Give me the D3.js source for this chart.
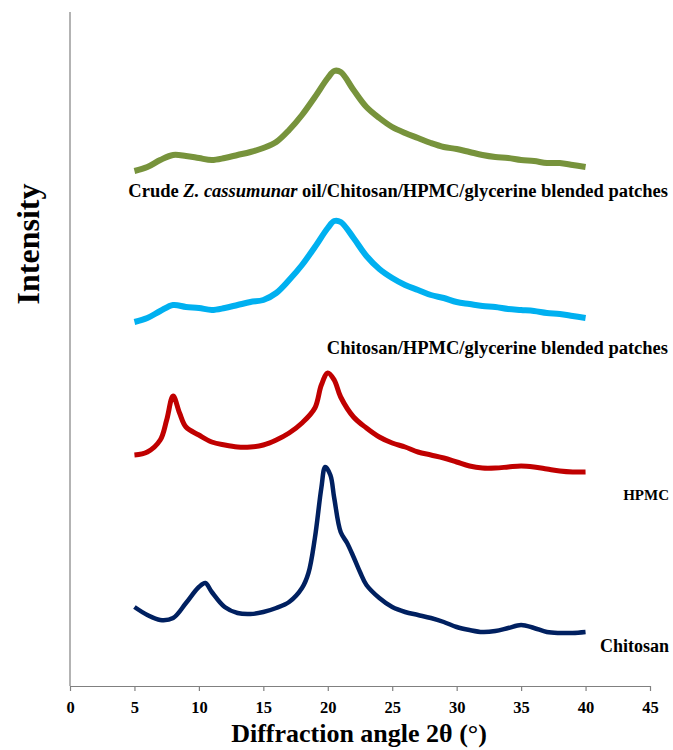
<!DOCTYPE html>
<html><head><meta charset="utf-8">
<script src="https://cdn.jsdelivr.net/npm/d3@7"></script>
<style>body{margin:0;background:#fff}svg{display:block}</style>
</head><body><div id="chart"></div>
<script>
// Diffraction angles (2θ) for each series
const angleGreen = [5,6,7,8,9,10,11,12,13,14,15,16,17,18,19,20,20.5,21,22,23,24,25,26,27,28,29,30,31,32,33,34,35,36,37,38,39,40];
const crudeOilPatch = [515,519,526,531,530,528,526,528,531,534,538,544,556,571,589,608,615,614,596,579,568,559,553,548,543,539,537,534,531,529,528,526,525,523,523,521,519];
const blendPatch = [364,368,375,381,379,378,376,378,381,384,386,393,406,421,439,458,465,464,448,430,417,408,401,396,391,388,384,382,380,379,377,376,375,373,372,370,368];

const angleHPMC = [5,6,7,7.5,8,8.5,9,10,11,12,13,14,15,16,17,18,19,19.5,20,20.5,21,22,23,24,25,26,27,28,29,30,31,32,33,34,35,36,37,38,39,40];
const hpmc = [231,234,246,266,290,273,259,251,244,241,239,239,241,246,253,263,278,301,313,306,289,269,258,249,243,239,234,231,228,224,220,218,218,219,220,219,217,215,214,214];

const angleChitosan = [5,6,7,8,9,10,10.5,11,12,13,14,15,16,17,18,18.5,19,19.5,19.8,20.2,20.5,21,21.5,22,22.5,23,24,25,26,27,28,29,30,31,32,33,34,35,36,37,38,39,40];
const chitosan = [79,71,66,68,83,99,103,94,79,73,72,74,78,84,98,113,148,198,219,211,188,154,143,129,114,101,88,79,74,71,68,64,59,56,54,55,58,61,58,54,53,53,54];

const xTicks = [0,5,10,15,20,25,30,35,40,45];
const seriesNames = ["Crude Z. cassumunar oil/Chitosan/HPMC/glycerine blended patches","Chitosan/HPMC/glycerine blended patches","HPMC","Chitosan"];
const seriesColors = ["#77933C","#00B0F0","#C00000","#002060"];

const W = 673, H = 750;
const svg = d3.select("#chart").append("svg").attr("width", W).attr("height", H);
const x = d3.scaleLinear().domain([0,45]).range([70,650]);
const y = d3.scaleLinear().domain([0,676]).range([686,10]);

const font = "'Liberation Serif','Times New Roman',serif";

// y axis line
svg.append("line").attr("x1",70).attr("x2",70).attr("y1",12).attr("y2",686)
  .attr("stroke","#808080").attr("stroke-width",1.2);

// x axis
const xAxis = svg.append("g").attr("transform","translate(0,686)")
  .call(d3.axisBottom(x).tickValues(xTicks).tickSize(5).tickSizeOuter(0).tickPadding(10));
xAxis.select(".domain").attr("stroke","#808080").attr("stroke-width",1.2);
xAxis.selectAll(".tick line").attr("stroke","#808080").attr("stroke-width",1.2);
xAxis.selectAll(".tick text").attr("font-family",font).attr("font-weight","bold")
  .attr("font-size",16.5).attr("fill","#000");

svg.append("text").attr("x",359).attr("y",742).attr("text-anchor","middle")
  .attr("font-family",font).attr("font-weight","bold").attr("font-size",26)
  .text("Diffraction angle 2θ (°)");

svg.append("text").attr("transform","translate(39,244) rotate(-90)").attr("text-anchor","middle")
  .attr("font-family",font).attr("font-weight","bold").attr("font-size",32)
  .text("Intensity");

const data = [
  {a: angleGreen, v: crudeOilPatch, w: 6},
  {a: angleGreen, v: blendPatch, w: 6},
  {a: angleHPMC, v: hpmc, w: 5},
  {a: angleChitosan, v: chitosan, w: 4.5}
];
const line = d3.line().x(d=>x(d[0])).y(d=>y(d[1])).curve(d3.curveCatmullRom.alpha(0.5));
data.forEach((s,i)=>{
  svg.append("path").datum(s.a.map((a,j)=>[a,s.v[j]]))
    .attr("d",line).attr("fill","none").attr("stroke",seriesColors[i])
    .attr("stroke-width",s.w).attr("stroke-linejoin","round");
});

// labels
const l0 = svg.append("text").attr("x",668).attr("y",197).attr("text-anchor","end")
  .attr("font-family",font).attr("font-weight","bold").attr("font-size",18.5);
l0.append("tspan").text("Crude ");
l0.append("tspan").attr("font-style","italic").text("Z. cassumunar");
l0.append("tspan").text(" oil/Chitosan/HPMC/glycerine blended patches");

svg.append("text").attr("x",668).attr("y",354).attr("text-anchor","end")
  .attr("font-family",font).attr("font-weight","bold").attr("font-size",18.5)
  .text(seriesNames[1]);
svg.append("text").attr("x",669).attr("y",500).attr("text-anchor","end")
  .attr("font-family",font).attr("font-weight","bold").attr("font-size",15)
  .text(seriesNames[2]);
svg.append("text").attr("x",669).attr("y",652).attr("text-anchor","end")
  .attr("font-family",font).attr("font-weight","bold").attr("font-size",18)
  .text(seriesNames[3]);
</script></body></html>
